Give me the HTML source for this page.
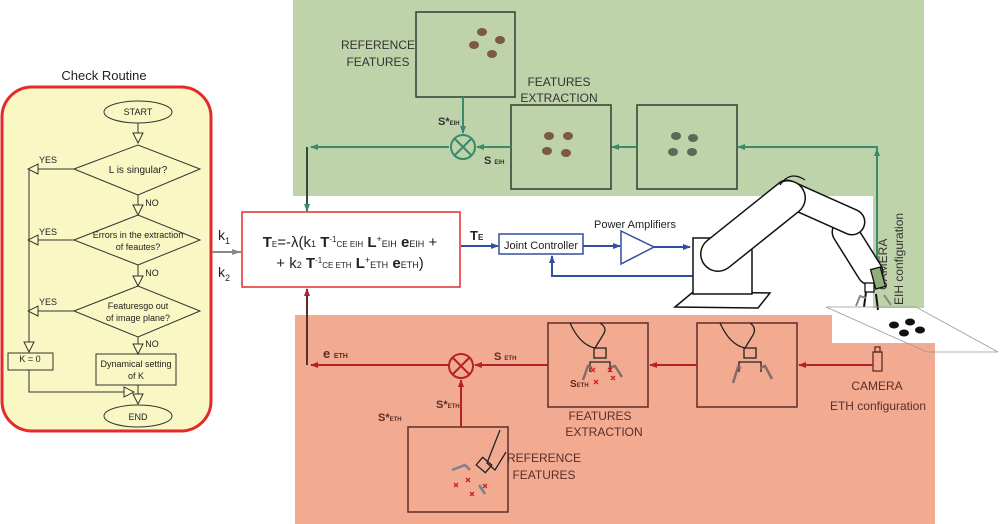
<!DOCTYPE html>
<html><head><meta charset="utf-8"><style>
html,body{margin:0;padding:0;background:#fff;width:1000px;height:524px;overflow:hidden}
svg text{font-family:"Liberation Sans",sans-serif}
</style></head><body>
<svg width="1000" height="524" viewBox="0 0 1000 524" xmlns="http://www.w3.org/2000/svg">
<defs>
<marker id="ag" markerWidth="8" markerHeight="8" refX="7" refY="4" orient="auto" markerUnits="userSpaceOnUse"><path d="M0,1 L8,4 L0,7z" fill="#3a8a6c"/></marker>
<marker id="ar" markerWidth="8" markerHeight="8" refX="7" refY="4" orient="auto" markerUnits="userSpaceOnUse"><path d="M0,1 L8,4 L0,7z" fill="#b52226"/></marker>
<marker id="ab" markerWidth="8" markerHeight="8" refX="7" refY="4" orient="auto" markerUnits="userSpaceOnUse"><path d="M0,1 L8,4 L0,7z" fill="#2f4f9f"/></marker>
<marker id="agr" markerWidth="10" markerHeight="8" refX="9" refY="4" orient="auto" markerUnits="userSpaceOnUse"><path d="M0,1 L9,4 L0,7z" fill="#888"/></marker>
<marker id="ao" markerWidth="12" markerHeight="12" refX="11" refY="6" orient="auto" markerUnits="userSpaceOnUse"><path d="M1,1 L11,6 L1,11z" fill="#fff9c8" stroke="#333" stroke-width="1"/></marker>
</defs>
<path d="M293,0 H924 V308 H873 V196 H293z" fill="#bfd3aa"/>
<path d="M295,315 H832 V343 H935 V524 H295z" fill="#f2ab90"/>
<text x="104" y="80" font-size="13" text-anchor="middle" fill="#222">Check Routine</text>
<rect x="2" y="87" width="209" height="344" rx="30" fill="#f9f7c4" stroke="#e32b2b" stroke-width="3"/>
<g fill="none" stroke="#333" stroke-width="1">
<ellipse cx="138" cy="112" rx="34" ry="11"/>
<line x1="138" y1="123" x2="138" y2="143" marker-end="url(#ao)"/>
<polygon points="74,169 138,145 200,169 138,195"/>
<line x1="138" y1="195" x2="138" y2="215" marker-end="url(#ao)"/>
<polygon points="74,240 138,215 200,240 138,265"/>
<line x1="138" y1="265" x2="138" y2="286" marker-end="url(#ao)"/>
<polygon points="74,311 138,286 200,311 138,337"/>
<line x1="138" y1="337" x2="138" y2="354" marker-end="url(#ao)"/>
<rect x="96" y="354" width="80" height="31"/>
<line x1="138" y1="385" x2="138" y2="404" marker-end="url(#ao)"/>
<ellipse cx="138" cy="416" rx="34" ry="11"/>
<line x1="74" y1="169" x2="28" y2="169" marker-end="url(#ao)"/>
<line x1="74" y1="240" x2="28" y2="240" marker-end="url(#ao)"/>
<line x1="74" y1="311" x2="28" y2="311" marker-end="url(#ao)"/>
<line x1="29" y1="169" x2="29" y2="352" marker-end="url(#ao)"/>
<rect x="8" y="353" width="45" height="17"/>
<polyline points="29,370 29,392 134,392" marker-end="url(#ao)"/>
</g>
<g font-size="9" fill="#222" text-anchor="middle">
<text x="138" y="115">START</text>
<text x="138" y="173" font-size="10">L  is singular?</text>
<text x="138" y="238">Errors in the extraction</text>
<text x="138" y="250">of feautes?</text>
<text x="138" y="309">Featuresgo out</text>
<text x="138" y="321">of image plane?</text>
<text x="136" y="367">Dynamical setting</text>
<text x="136" y="379">of K</text>
<text x="138" y="420">END</text>
<text x="30" y="362">K   =  0</text>
<text x="48" y="163">YES</text><text x="48" y="235">YES</text><text x="48" y="305">YES</text>
<text x="152" y="206">NO</text><text x="152" y="276">NO</text><text x="152" y="347">NO</text>
</g>
<text x="218" y="240" font-size="14" fill="#222">k<tspan font-size="9" dy="4">1</tspan></text>
<text x="218" y="277" font-size="14" fill="#222">k<tspan font-size="9" dy="4">2</tspan></text>
<line x1="212" y1="252" x2="241" y2="252" stroke="#888" stroke-width="2" marker-end="url(#agr)"/>
<rect x="242" y="212" width="218" height="75" fill="#fff" stroke="#e32b2b" stroke-width="1.5"/>
<text x="350" y="247" font-size="15" text-anchor="middle" fill="#222"><tspan font-weight="bold">T</tspan><tspan font-size="8">E</tspan>=-λ(k<tspan font-size="9">1</tspan> <tspan font-weight="bold">T</tspan><tspan font-size="8" dy="-5">-1</tspan><tspan font-size="8" dy="5">CE EIH</tspan> <tspan font-weight="bold">L</tspan><tspan font-size="9" dy="-5">+</tspan><tspan font-size="9" dy="5">EIH</tspan> <tspan font-weight="bold">e</tspan><tspan font-size="9">EIH</tspan> +</text>
<text x="350" y="268" font-size="15" text-anchor="middle" fill="#222">+ k<tspan font-size="9">2</tspan> <tspan font-weight="bold">T</tspan><tspan font-size="8" dy="-5">-1</tspan><tspan font-size="8" dy="5">CE ETH</tspan> <tspan font-weight="bold">L</tspan><tspan font-size="9" dy="-5">+</tspan><tspan font-size="9" dy="5">ETH</tspan> <tspan font-weight="bold">e</tspan><tspan font-size="9">ETH</tspan>)</text>
<text x="470" y="240" font-size="13" font-weight="bold" fill="#222">T<tspan font-size="8">E</tspan></text>
<line x1="461" y1="246" x2="498" y2="246" stroke="#2f4f9f" stroke-width="2" marker-end="url(#ab)"/>
<rect x="499" y="234" width="84" height="20" fill="#fff" stroke="#2f4f9f" stroke-width="1.5"/>
<text x="541" y="249" font-size="11" text-anchor="middle" fill="#222">Joint Controller</text>
<line x1="583" y1="246" x2="620" y2="246" stroke="#2f4f9f" stroke-width="2" marker-end="url(#ab)"/>
<polygon points="621,231 654,247 621,264" fill="#fff" stroke="#2f4f9f" stroke-width="1.5"/>
<text x="635" y="228" font-size="11" text-anchor="middle" fill="#222">Power Amplifiers</text>
<line x1="654" y1="247" x2="690" y2="247" stroke="#2f4f9f" stroke-width="2" marker-end="url(#ab)"/>
<polyline points="695,276 552,276 552,256" fill="none" stroke="#2f4f9f" stroke-width="2" marker-end="url(#ab)"/>
<g fill="none" stroke="#2e3f30" stroke-width="1.5">
<rect x="416" y="12" width="99" height="85"/>
<rect x="511" y="105" width="100" height="84"/>
<rect x="637" y="105" width="100" height="84"/>
</g>
<g stroke="#3a8a6c" stroke-width="2" fill="none">
<line x1="463" y1="97" x2="463" y2="133" marker-end="url(#ag)"/>
<line x1="511" y1="147" x2="477" y2="147" marker-end="url(#ag)"/>
<line x1="637" y1="147" x2="612" y2="147" marker-end="url(#ag)"/>
<polyline points="877,268 877,147 738,147" marker-end="url(#ag)"/>
<line x1="877" y1="160" x2="877" y2="149" marker-end="url(#ag)"/>
<line x1="449" y1="147" x2="311" y2="147" marker-end="url(#ag)"/>
<line x1="307" y1="147" x2="307" y2="211" stroke="#2e4a3d" marker-end="url(#ag)"/>
<circle cx="463" cy="147" r="12"/>
<line x1="455" y1="139" x2="471" y2="155"/><line x1="471" y1="139" x2="455" y2="155"/>
</g>
<g font-size="12" fill="#333" text-anchor="middle">
<text x="378" y="49">REFERENCE</text><text x="378" y="66">FEATURES</text>
<text x="559" y="86">FEATURES</text><text x="559" y="102">EXTRACTION</text>
</g>
<text x="438" y="125" font-size="11" font-weight="bold" fill="#333">S*<tspan font-size="6">EIH</tspan></text>
<text x="484" y="164" font-size="11" font-weight="bold" fill="#333">S <tspan font-size="6">EIH</tspan></text>
<g fill="#7c5a3e">
<ellipse cx="482" cy="32" rx="5" ry="4"/><ellipse cx="500" cy="40" rx="5" ry="4"/><ellipse cx="474" cy="45" rx="5" ry="4"/><ellipse cx="492" cy="54" rx="5" ry="4"/>
<ellipse cx="549" cy="136" rx="5" ry="4"/><ellipse cx="568" cy="136" rx="5" ry="4"/><ellipse cx="547" cy="151" rx="5" ry="4"/><ellipse cx="566" cy="153" rx="5" ry="4"/>
</g>
<g fill="#5a6a55"><ellipse cx="676" cy="136" rx="5" ry="4"/><ellipse cx="673" cy="152" rx="5" ry="4"/><ellipse cx="693" cy="138" rx="5" ry="4"/><ellipse cx="692" cy="152" rx="5" ry="4"/></g>
<text transform="translate(887,290) rotate(-90)" font-size="12" fill="#333">CAMERA</text>
<text transform="translate(903,305) rotate(-90)" font-size="12" fill="#333">EIH configuration</text>
<!-- robot -->
<polygon points="675,307 693,292 770,293 758,308" fill="#fff" stroke="#111" stroke-width="1.5"/>
<rect x="693" y="238" width="59" height="56" fill="#fff" stroke="#111" stroke-width="1.5"/>
<g stroke-linecap="round" fill="none">
<line x1="845" y1="232" x2="870" y2="272" stroke="#111" stroke-width="27"/>
<line x1="845" y1="232" x2="870" y2="272" stroke="#fff" stroke-width="24"/>
<line x1="787" y1="193" x2="852" y2="222" stroke="#111" stroke-width="27"/>
<line x1="787" y1="193" x2="852" y2="222" stroke="#fff" stroke-width="24"/>
<line x1="718" y1="254" x2="788" y2="198" stroke="#111" stroke-width="36"/>
<line x1="718" y1="254" x2="788" y2="198" stroke="#fff" stroke-width="33"/>
</g>
<path d="M780,185 Q790,170 805,180" fill="none" stroke="#111" stroke-width="1.3"/>
<rect x="873" y="268" width="10" height="20" fill="#8fb07a" stroke="#111" stroke-width="1.3" transform="rotate(-15 878 278)"/>
<rect x="865" y="283" width="9" height="9" fill="#fff" stroke="#111" stroke-width="1.3"/>
<g stroke="#111" stroke-width="2"><line x1="866" y1="292" x2="864" y2="307"/><line x1="876" y1="294" x2="878" y2="310"/></g>
<g stroke="#888" stroke-width="2" fill="none"><polyline points="856,306 860,296 866,298"/><line x1="884" y1="295" x2="891" y2="305"/></g>
<polygon points="826,307 916,307 998,352 927,352" fill="none" stroke="#999" stroke-width="0.8"/>
<g fill="#111"><ellipse cx="894" cy="325" rx="5" ry="3.5"/><ellipse cx="910" cy="322" rx="5" ry="3.5"/><ellipse cx="904" cy="333" rx="5" ry="3.5"/><ellipse cx="920" cy="330" rx="5" ry="3.5"/></g>
<g fill="none" stroke="#5a2d2a" stroke-width="1.5">
<rect x="548" y="323" width="100" height="84"/>
<rect x="697" y="323" width="100" height="84"/>
<rect x="408" y="427" width="100" height="85"/>
<rect x="873" y="352" width="9" height="19" stroke-width="1.3"/>
<rect x="875" y="347" width="5" height="5" stroke-width="1.3"/>
</g>
<g fill="none" stroke="#b52226" stroke-width="2">
<line x1="873" y1="365" x2="799" y2="365" marker-end="url(#ar)"/>
<line x1="697" y1="365" x2="650" y2="365" marker-end="url(#ar)"/>
<line x1="548" y1="365" x2="475" y2="365" marker-end="url(#ar)"/>
<line x1="461" y1="427" x2="461" y2="380" marker-end="url(#ar)"/>
<line x1="449" y1="365" x2="311" y2="365" marker-end="url(#ar)"/>
<line x1="307" y1="365" x2="307" y2="289" stroke="#5a2d2a" marker-end="url(#ar)"/>
<circle cx="461" cy="366" r="12"/>
<line x1="453" y1="358" x2="469" y2="374"/><line x1="469" y1="358" x2="453" y2="374"/>
</g>
<g fill="none" stroke="#222" stroke-width="1.3">
<path d="M570,323 Q580,345 595,348 L603,335 Q608,328 600,323"/>
<rect x="594" y="348" width="12" height="10"/><path d="M590,372 L590,362 L610,362 L610,372"/>
<path d="M720,323 Q730,345 745,348 L753,335 Q757,328 750,323"/>
<rect x="744" y="348" width="12" height="10"/><path d="M739,372 L739,362 L761,362 L761,372"/>
<path d="M500,430 L487,463 L495,470 L506,452"/>
<rect x="478" y="460" width="12" height="10" transform="rotate(40 484 465)"/>
</g>
<g stroke="#8a6a66" stroke-width="2.5" fill="none"><polyline points="583,380 588,366 592,368"/><polyline points="611,367 615,366 622,377"/><polyline points="733,383 738,367 741,368"/><polyline points="760,368 765,366 772,379"/></g>
<g stroke="#7a8290" stroke-width="2.5" fill="none"><polyline points="452,470 465,465 470,470"/><polyline points="479,485 485,494"/></g>
<g stroke="#d02020" stroke-width="1.3"><path d="M591,368l4,4m0,-4l-4,4M608,368l4,4m0,-4l-4,4M594,380l4,4m0,-4l-4,4M611,376l4,4m0,-4l-4,4M466,478l4,4m0,-4l-4,4M454,483l4,4m0,-4l-4,4M470,492l4,4m0,-4l-4,4M483,484l4,4m0,-4l-4,4"/></g>
<g fill="#5a2d2a" font-weight="bold">
<text x="323" y="358" font-size="13">e <tspan font-size="7">ETH</tspan></text>
<text x="494" y="360" font-size="11">S <tspan font-size="6">ETH</tspan></text>
<text x="570" y="387" font-size="10">S<tspan font-size="6">ETH</tspan></text>
<text x="436" y="408" font-size="11">S*<tspan font-size="6">ETH</tspan></text>
<text x="378" y="421" font-size="11">S*<tspan font-size="6">ETH</tspan></text>
</g>
<g font-size="12" fill="#5a2d2a" text-anchor="middle">
<text x="600" y="420">FEATURES</text><text x="604" y="436">EXTRACTION</text>
<text x="544" y="462">REFERENCE</text><text x="544" y="479">FEATURES</text>
<text x="877" y="390">CAMERA</text><text x="878" y="410">ETH configuration</text>
</g>
</svg>
</body></html>
